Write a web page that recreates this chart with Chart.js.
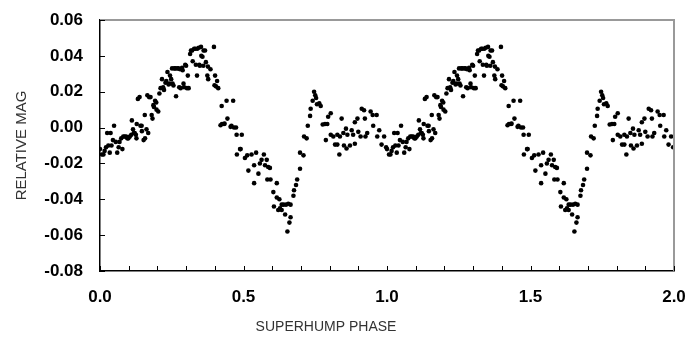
<!DOCTYPE html>
<html>
<head>
<meta charset="utf-8">
<script src="https://cdn.jsdelivr.net/npm/chart.js@4.4.1/dist/chart.umd.min.js"></script>
<style>
  html, body { margin: 0; padding: 0; background: #fff; }
  #wrap { width: 685px; height: 340px; }
</style>
</head>
<body>
<div id="wrap"><canvas id="shChart" width="685" height="340"></canvas></div>
<script>
// folded light curve: phase and relative magnitude of each observation
const phase = [
  0.000, 0.007, 0.012, 0.016, 0.021, 0.025, 0.029, 0.034, 0.037, 0.040,
  0.045, 0.049, 0.055, 0.060, 0.065, 0.068, 0.074, 0.078, 0.081, 0.086,
  0.091, 0.095, 0.099, 0.104, 0.109, 0.111, 0.115, 0.118, 0.121, 0.125,
  0.127, 0.128, 0.132, 0.138, 0.141, 0.145, 0.146, 0.152, 0.156, 0.157,
  0.162, 0.165, 0.168, 0.171, 0.176, 0.180, 0.183, 0.186, 0.188, 0.192,
  0.196, 0.197, 0.203, 0.207, 0.211, 0.216, 0.220, 0.223, 0.228, 0.231,
  0.235, 0.239, 0.242, 0.244, 0.248, 0.251, 0.253, 0.256, 0.259, 0.262,
  0.265, 0.269, 0.274, 0.276, 0.279, 0.281, 0.286, 0.288, 0.291, 0.293,
  0.297, 0.300, 0.303, 0.306, 0.309, 0.314, 0.317, 0.321, 0.323, 0.328,
  0.332, 0.334, 0.338, 0.339, 0.344, 0.346, 0.348, 0.352, 0.353, 0.357,
  0.360, 0.361, 0.366, 0.369, 0.374, 0.376, 0.377, 0.385, 0.397, 0.399,
  0.401, 0.404, 0.408, 0.412, 0.420, 0.424, 0.425, 0.432, 0.434, 0.441,
  0.444, 0.455, 0.458, 0.464, 0.467, 0.474, 0.476, 0.477, 0.488, 0.490,
  0.494, 0.505, 0.513, 0.517, 0.528, 0.537, 0.537, 0.544, 0.552, 0.557,
  0.563, 0.571, 0.575, 0.581, 0.583, 0.586, 0.592, 0.594, 0.604, 0.606,
  0.616, 0.616, 0.621, 0.625, 0.627, 0.633, 0.633, 0.639, 0.645, 0.648,
  0.653, 0.656, 0.660, 0.664, 0.664, 0.674, 0.676, 0.683, 0.687, 0.697,
  0.697, 0.709, 0.711, 0.720, 0.724, 0.732, 0.734, 0.741, 0.746, 0.750,
  0.753, 0.756, 0.764, 0.769, 0.776, 0.784, 0.787, 0.792, 0.795, 0.804,
  0.804, 0.813, 0.819, 0.827, 0.827, 0.834, 0.836, 0.842, 0.848, 0.850,
  0.857, 0.859, 0.862, 0.871, 0.877, 0.882, 0.888, 0.888, 0.897, 0.900,
  0.908, 0.912, 0.920, 0.923, 0.925, 0.931, 0.943, 0.950, 0.952, 0.964,
  0.966, 0.973, 0.981, 0.990, 0.997
];
const mag = [
  -0.012, -0.015, -0.015, -0.013, -0.011, -0.003, -0.010, -0.014, -0.003, -0.010,
  -0.007, 0.001, -0.008, -0.014, -0.011, -0.008, -0.006, -0.012, -0.005, -0.005,
  -0.005, -0.006, -0.006, -0.005, -0.004, 0.004, -0.001, -0.003, -0.003, -0.004,
  -0.006, 0.002, 0.016, 0.017, 0.001, 0.001, -0.002, -0.007, 0.007, -0.006,
  -0.001, 0.018, -0.003, 0.017, 0.017, 0.007, 0.005, 0.0125, 0.0115, 0.015,
  0.014, 0.010, 0.009, 0.019, 0.022, 0.027, 0.0225, 0.021, 0.025, 0.026,
  0.031, 0.024, 0.0245, 0.029, 0.027, 0.033, 0.0245, 0.0235, 0.033, 0.033,
  0.0175, 0.033, 0.033, 0.0225, 0.0325, 0.022, 0.0333, 0.032, 0.0245, 0.0225,
  0.035, 0.0345, 0.022, 0.029, 0.022, 0.041, 0.043, 0.043, 0.037, 0.044,
  0.044, 0.035, 0.029, 0.044, 0.0445, 0.035, 0.0345, 0.045, 0.040, 0.0395,
  0.0345, 0.043, 0.043, 0.0365, 0.029, 0.034, 0.027, 0.0325, 0.045, 0.0236,
  0.029, 0.023, 0.026, 0.022, 0.0013, 0.012, 0.002, 0.002, 0.0022, 0.015,
  0.005, 0.0004, 0.001, 0.015, 0.000, 0.000, -0.004, -0.015, -0.012, -0.012,
  -0.004, -0.017, -0.0155, -0.024, -0.015, -0.021, -0.031, -0.014, -0.0257, -0.020,
  -0.018, -0.015, -0.021, -0.018, -0.029, -0.022, -0.0225, -0.029, -0.036, -0.044,
  -0.031, -0.039, -0.046, -0.040, -0.045, -0.043, -0.046, -0.043, -0.0485, -0.043,
  -0.058, -0.0425, -0.053, -0.043, -0.050, -0.038, -0.035, -0.032, -0.029, -0.023,
  -0.014, -0.0155, -0.005, -0.006, 0.001, 0.0065, 0.0105, 0.015, 0.020, 0.018,
  0.0165, 0.013, 0.0135, 0.012, 0.0017, 0.002, -0.007, 0.002, 0.006, 0.008,
  -0.004, -0.005, -0.0095, -0.0095, -0.004, -0.015, -0.005, 0.005, -0.003, -0.010,
  -0.0006, -0.0117, -0.004, -0.010, -0.0015, -0.004, -0.009, 0.003, 0.005, -0.0024,
  -0.005, 0.0105, 0.0097, 0.005, -0.005, -0.003, 0.009, 0.007, 0.001, 0.007,
  -0.005, -0.0015, -0.0095, -0.005, -0.011
];
// the curve is shown over two cycles
const cycles = [0, 1];

const xTitle = 'SUPERHUMP PHASE';
const yTitle = 'RELATIVE MAG';

const points = [];
cycles.forEach(c => {
    phase.forEach((p, i) => points.push({ x: p + c, y: mag[i] }));
});

// inward tick marks, gray top/right frame and the axis titles
const framePlugin = {
    id: 'frame',
    afterDraw(chart) {
        const { ctx, chartArea: a, scales } = chart;
        ctx.save();
        ctx.strokeStyle = '#999';
        ctx.lineWidth = 2;
        ctx.beginPath();
        ctx.moveTo(a.left, a.top);
        ctx.lineTo(a.right, a.top);
        ctx.lineTo(a.right, a.bottom);
        ctx.stroke();

        ctx.strokeStyle = '#000';
        ctx.lineWidth = 1;
        ctx.beginPath();
        scales.x.ticks.forEach(t => {
            const px = Math.round(scales.x.getPixelForValue(t.value)) + 0.5;
            ctx.moveTo(px, a.bottom);
            ctx.lineTo(px, a.bottom - 5);
        });
        scales.y.ticks.forEach(t => {
            const py = Math.round(scales.y.getPixelForValue(t.value)) + 0.5;
            ctx.moveTo(a.left, py);
            ctx.lineTo(a.left + 5, py);
        });
        ctx.stroke();

        ctx.fillStyle = '#333';
        ctx.font = '14px "Liberation Sans", Arial, sans-serif';
        ctx.textAlign = 'center';
        ctx.textBaseline = 'middle';
        ctx.fillText(xTitle, 326, 327);
        ctx.translate(22, (a.top + a.bottom) / 2);
        ctx.rotate(-Math.PI / 2);
        ctx.font = '15px "Liberation Sans", Arial, sans-serif';
        ctx.fillText(yTitle, 0, 0);
        ctx.restore();
    }
};

const tickFont = { family: '"Liberation Sans", Arial, sans-serif', size: 17, weight: 'bold' };

new Chart(document.getElementById('shChart'), {
    type: 'scatter',
    data: {
        datasets: [{
            data: points,
            backgroundColor: '#000',
            borderWidth: 0,
            pointRadius: 2.3,
            pointHoverRadius: 2.3
        }]
    },
    options: {
        responsive: false,
        animation: false,
        layout: { padding: { top: 20, right: 11, left: 0, bottom: 0 } },
        plugins: { legend: { display: false }, tooltip: { enabled: false } },
        scales: {
            x: {
                type: 'linear',
                min: 0,
                max: 2,
                afterFit: s => {
                    s.height = 69;
                    s.paddingLeft = 0;
                    s.paddingRight = 0;
                },
                border: { color: '#000', width: 1.5 },
                grid: { drawOnChartArea: false, drawTicks: false },
                ticks: {
                    stepSize: 0.1,
                    padding: 16,
                    color: '#000',
                    font: tickFont,
                    autoSkip: false,
                    maxRotation: 0,
                    callback: v => (Math.round(v * 10) % 5 === 0 ? v.toFixed(1) : '')
                }
            },
            y: {
                min: -0.08,
                max: 0.06,
                afterFit: s => {
                    s.width = 100;
                    s.paddingTop = 0;
                    s.paddingBottom = 0;
                },
                border: { color: '#000', width: 1.5 },
                grid: { drawOnChartArea: false, drawTicks: false },
                ticks: {
                    stepSize: 0.02,
                    padding: 17,
                    color: '#000',
                    font: tickFont,
                    callback: v => v.toFixed(2)
                }
            }
        }
    },
    plugins: [framePlugin]
});
</script>
</body>
</html>
